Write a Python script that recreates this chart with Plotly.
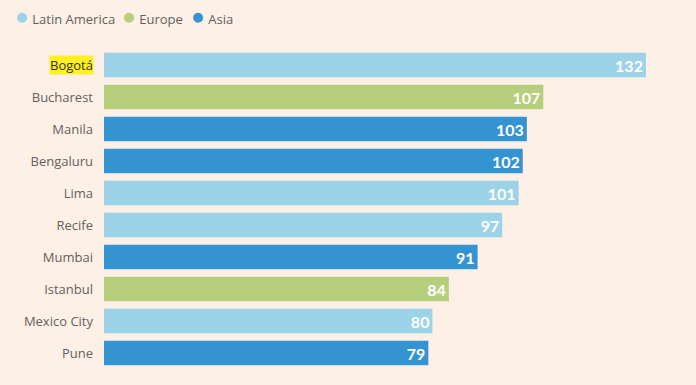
import plotly.graph_objects as go

cities = ["Bogotá", "Bucharest", "Manila", "Bengaluru", "Lima", "Recife",
          "Mumbai", "Istanbul", "Mexico City", "Pune"]
values = [132, 107, 103, 102, 101, 97, 91, 84, 80, 79]
regions = ["Latin America", "Europe", "Asia", "Asia", "Latin America",
           "Latin America", "Asia", "Europe", "Latin America", "Asia"]
region_order = ["Latin America", "Europe", "Asia"]
colors = {"Latin America": "#9dd3e8", "Europe": "#b5cf7c", "Asia": "#3494d1"}
highlight = "Bogotá"

BG = "#fdf1e7"
fig = go.Figure()

for reg in region_order:
    xs = [v for v, r in zip(values, regions) if r == reg]
    ys = [c for c, r in zip(cities, regions) if r == reg]
    fig.add_trace(go.Bar(
        x=xs, y=ys, orientation="h", name=reg,
        marker=dict(color=colors[reg], line=dict(width=0)),
        text=[str(v) for v in xs], textposition="inside", insidetextanchor="end",
        textangle=0, constraintext="none",
        textfont=dict(color="white", size=16, family="Lato", weight="bold"),
        width=0.76, showlegend=False, hoverinfo="x+y",
    ))

# legend drawn as text annotations
legend_x = [13, 120, 189]
for reg, lx in zip(region_order, legend_x):
    fig.add_annotation(
        x=lx, xref="paper", y=0, yref="paper", showarrow=False,
        text=f'<span style="color:{colors[reg]};font-size:23px">●</span> {reg}',
        xanchor="left", yanchor="middle", align="left",
        font=dict(family="Open Sans", size=13, color="#66605c"),
    )

ticktext = ["" if c == highlight else c for c in cities]

fig.add_annotation(
    x=0, xref="paper", y=highlight, yref="y", text=highlight, showarrow=False,
    xanchor="right", xshift=-10, bgcolor="#fff01f", borderpad=0,
    font=dict(family="Open Sans", size=13, color="#33302e"),
)

fig.update_layout(
    width=696, height=385,
    paper_bgcolor=BG, plot_bgcolor=BG,
    margin=dict(l=104, r=0, t=49, b=16),
    barmode="overlay",
    showlegend=False,
    font=dict(family="Open Sans", size=13, color="#66605c"),
    xaxis=dict(range=[0, 144.2], showgrid=False, zeroline=False, showticklabels=False,
               fixedrange=True),
    yaxis=dict(categoryorder="array", categoryarray=cities, autorange="reversed",
               tickmode="array", tickvals=cities, ticktext=ticktext,
               showgrid=False, zeroline=False, ticklabelstandoff=10, fixedrange=True),
)

# legend annotations positioned in pixels from top-left
plot_h = 385 - 49 - 16
for ann in fig.layout.annotations[:3]:
    ann.x = (ann.x - 104) / (696 - 104)
    ann.y = (385 - 16 - 15) / plot_h

fig.write_html("out.html", config={"displayModeBar": False},
               post_script="document.body.style.margin='0';document.body.style.overflow='hidden';")
